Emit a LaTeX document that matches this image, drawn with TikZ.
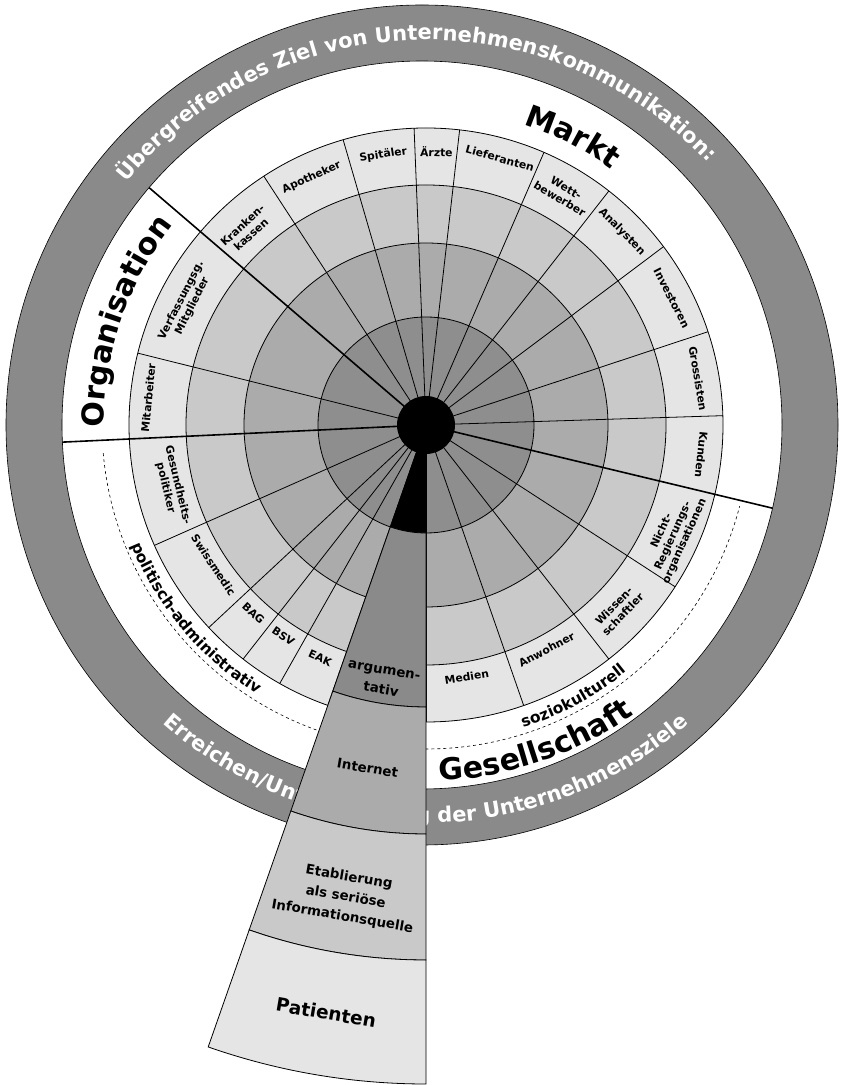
\documentclass[tikz,border=0pt]{standalone}
\usepackage{fontspec}
\setmainfont{DejaVu Sans}
\usetikzlibrary{decorations.text}
\definecolor{ringA}{HTML}{8E8E8E}
\definecolor{ringB}{HTML}{ABABAB}
\definecolor{ringC}{HTML}{C9C9C9}
\definecolor{ringD}{HTML}{E5E5E5}
\definecolor{outerring}{HTML}{8A8A8A}
\begin{document}
\begin{tikzpicture}[x=1pt,y=1pt,
  sec/.style={font=\bfseries\fontsize{10.8}{12.5}\selectfont, align=center, inner sep=0pt},
  thinline/.style={line width=0.8pt},
  divider/.style={line width=1.6pt},
  wtext/.style={font=\bfseries\fontsize{13.4}{20}\selectfont, align=center, inner sep=0pt, rotate=-9.65},
  bigtext/.style={decorate, decoration={text along path, text align=center,
      text={|\bfseries\fontsize{30}{30}\selectfont|#1}}},
  midtext/.style={decorate, decoration={text along path, text align=center,
      text={|\bfseries\fontsize{15.5}{15.5}\selectfont|#1}}},
  ringtext/.style={decorate, decoration={text along path, text align=center,
      text={|\color{white}\bfseries\fontsize{21}{21}\selectfont|#1}}},
  wedgeseg/.style={fill=#1, draw=black, line width=0.8pt}
]
\useasboundingbox (0,0) rectangle (843,1085);
\fill[white] (0,0) rectangle (843,1085);
\coordinate (C) at (426,660);
\begin{scope}[shift={(C)}]
  % rings
  \fill[ringD] (0,0) circle[radius=297pt];
  \fill[ringC] (0,0) circle[radius=240pt];
  \fill[ringB] (0,0) circle[radius=182pt];
  \fill[ringA] (0,0) circle[radius=108pt];
  \draw[thinline] (0,0) circle[radius=297pt];
  \draw[thinline] (0,0) circle[radius=240pt];
  \draw[thinline] (0,0) circle[radius=182pt];
  \draw[thinline] (0,0) circle[radius=108pt];
  % radial sector lines
  \foreach \a in {123.1,106.2,92.3,83.5,66.6,52,36.9,18.3,1.8,166,203.9,223,232,240.5,250.7,270,289.2,308,327}
    \draw[thinline] (\a:20pt) -- (\a:297pt);
  % main dividers
  \foreach \a in {139.4,182.7,346.5}
    \draw[divider] (0,0) -- (\a:368pt);
  % dashed arc
  \draw[dashed, line width=0.6pt] (185:324pt) arc[start angle=185, end angle=345.5, radius=324pt];
  % outer dark ring
  \fill[outerring, even odd rule] (-4,0) ellipse[x radius=416pt, y radius=420pt]
                                  (-4,0) ellipse[x radius=360pt, y radius=364pt];
  \draw[line width=0.6pt] (-4,0) ellipse[x radius=416pt, y radius=420pt];
  \draw[line width=0.6pt] (-4,0) ellipse[x radius=360pt, y radius=364pt];
  % centre
  \fill[black] (0,0) circle[radius=29pt];
  % ring texts
  \path[ringtext={Übergreifendes Ziel von Unternehmenskommunikation:}]
    (152:385pt) arc[start angle=152, end angle=32, radius=385pt];
  \path[ringtext={Erreichen/Unterstützung der Unternehmensziele}]
    (210:398pt) arc[start angle=210, end angle=330, radius=398pt];
  % big group labels
  \path[bigtext={Markt}] (93:316pt) arc[start angle=93, end angle=33, radius=316pt];
  \path[bigtext={Organisation}] (191:322pt) arc[start angle=191, end angle=131, radius=322pt];
  \path[bigtext={Gesellschaft}] (-101:356pt) arc[start angle=-101, end angle=-41, radius=356pt];
  \path[midtext={politisch-administrativ}] (190:318pt) arc[start angle=190, end angle=250, radius=318pt];
  \path[midtext={soziokulturell}] (-91.5:318pt) arc[start angle=-91.5, end angle=-31.5, radius=318pt];
  % sector labels (upper: tops outward)
  \node[sec, rotate=42.6] (kk) at (132.6:265pt) {Kranken-\\kassen};
  \node[sec, rotate=24.8] (ap) at (114.8:272.7pt) {Apotheker};
  \node[sec, rotate=9] (sp) at (99:273.4pt) {Spitäler};
  \node[sec, rotate=-2.2] (ae) at (87.8:273.5pt) {Ärzte};
  \node[sec, rotate=-15.5] (li) at (74.5:276.8pt) {Lieferanten};
  \node[sec, rotate=-30.6] (wb) at (59.4:269pt) {Wett-\\bewerber};
  \node[sec, rotate=-45.4] (an) at (44.6:275pt) {Analysten};
  \node[sec, rotate=-62.7] (in) at (27.3:276.4pt) {Investoren};
  \node[sec, rotate=-80.3] (gr) at (9.7:276pt) {Grossisten};
  \node[sec, rotate=-96.2] (ku) at (-6.2:277pt) {Kunden};
  \node[sec, rotate=63] (vm) at (153:268.5pt) {Verfassungsg.\\Mitglieder};
  \node[sec, rotate=84.4] (ma) at (174.4:279pt) {Mitarbeiter};
  % sector labels (lower: tops inward)
  \node[sec, rotate=283.6] (gp) at (193.6:261.7pt) {Gesundheits-\\politiker};
  \node[sec, rotate=303.4] (sm) at (213.4:254.6pt) {Swissmedic};
  \node[sec, rotate=317.5] (bag) at (227.5:255.5pt) {BAG};
  \node[sec, rotate=326] (bsv) at (236:255pt) {BSV};
  \node[sec, rotate=335.6] (eak) at (245.6:256pt) {EAK};
  \node[sec, rotate=9.2] (me) at (279.2:255pt) {Medien};
  \node[sec, rotate=28.2] (aw) at (298.2:255pt) {Anwohner};
  \node[sec, rotate=46.1] (ws) at (316.1:266.9pt) {Wissen-\\schaftler};
  \node[sec, rotate=65.6] (nro) at (335.8:271pt) {Nicht-\\Regierungs-\\organisationen};
  % wedge
  \fill[black] (0,0) -- (250.7:108pt) arc[start angle=250.7, end angle=270, radius=108pt] -- cycle;
  \path[wedgeseg=outerring] (250.7:108pt) arc[start angle=250.7, end angle=270, radius=108pt]
     -- (270:282pt) arc[start angle=270, end angle=250.7, radius=282pt] -- cycle;
  \path[wedgeseg=ringB] (250.7:282pt) arc[start angle=250.7, end angle=270, radius=282pt]
     -- (270:409pt) arc[start angle=270, end angle=250.7, radius=409pt] -- cycle;
  \path[wedgeseg=ringC] (250.7:409pt) arc[start angle=250.7, end angle=270, radius=409pt]
     -- (270:535pt) arc[start angle=270, end angle=250.7, radius=535pt] -- cycle;
  \path[wedgeseg=ringD] (250.7:535pt) arc[start angle=250.7, end angle=270, radius=535pt]
     -- (270:659pt) arc[start angle=270, end angle=250.7, radius=659pt] -- cycle;
  \draw[thinline] (250.7:29pt) -- (250.7:108pt);
  \draw[thinline] (270:29pt) -- (270:108pt);
  % wedge texts
  \node[wtext] (arg) at (260.35:259pt) {argumen-\\tativ};
  \node[wtext] (inet) at (260.35:348pt) {Internet};
  \node[wtext] (etab) at (260.35:479pt) {Etablierung\\als seriöse\\Informationsquelle};
  \node[wtext, font=\bfseries\fontsize{18.5}{20}\selectfont] (pat) at (260.35:596pt) {Patienten};
\end{scope}
\end{tikzpicture}
\end{document}
